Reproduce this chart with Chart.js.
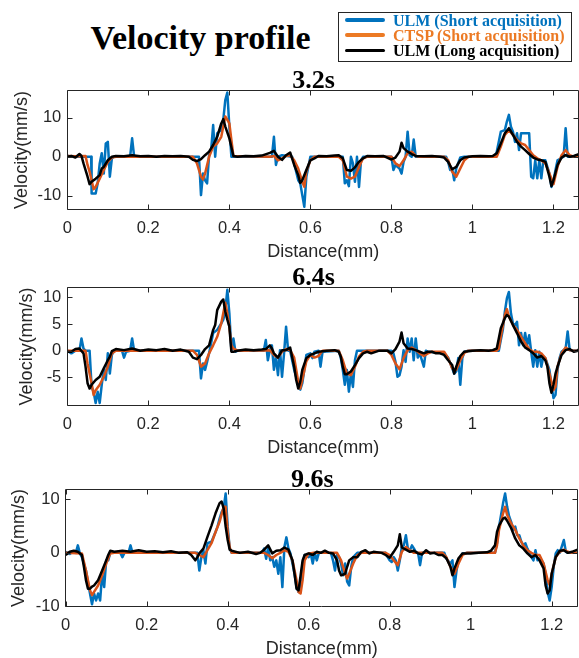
<!DOCTYPE html>
<html>
<head>
<meta charset="utf-8">
<script src="https://cdn.jsdelivr.net/npm/chart.js@4"></script>
<style>
  html, body { margin: 0; padding: 0; background: #fff; }
  body { width: 579px; height: 658px; position: relative; overflow: hidden; }
  canvas { position: absolute; left: 0; }
  #titulo {
    position: absolute; left: 0; top: 21px; width: 401px; text-align: center;
    font: bold 34px "Liberation Serif", "Times New Roman", serif; line-height: 34px; color: #000;
  }
  #leyenda {
    position: absolute; left: 338px; top: 12px; width: 234px; height: 50px;
    box-sizing: border-box; border: 1px solid #262626; background: #fff;
  }
  .muestra { position: absolute; left: 345px; width: 40px; height: 3.5px; border-radius: 2px; }
  .etiqueta {
    position: absolute; left: 393px; white-space: nowrap;
    font: bold 16px "Liberation Serif", "Times New Roman", serif; line-height: 16px;
  }
</style>
</head>
<body>
<div id="titulo">Velocity profile</div>
<div id="leyenda"></div>
<canvas id="grafico1"></canvas>
<canvas id="grafico2"></canvas>
<canvas id="grafico3"></canvas>
<script>
// Perfiles de velocidad: pares [distancia (mm), velocidad (mm/s)]
// 3.2s
const ulm_corta_32 = [[0,0.3],[0.01,0],[0.059,0],[0.06,-9.4],[0.07,-9.4],[0.075,-6.8],[0.08,-1.7],[0.085,0.9],[0.09,-4.3],[0.095,3.4],[0.1,3.8],[0.105,-5.1],[0.11,-0.4],[0.115,0],[0.155,0],[0.16,4.7],[0.165,0],[0.325,0],[0.33,-9.8],[0.335,-4.3],[0.34,-6],[0.345,-6.8],[0.35,0.4],[0.355,1.7],[0.36,8.1],[0.365,0],[0.37,6],[0.38,6.8],[0.385,9.4],[0.39,14.5],[0.395,16.4],[0.4,7.7],[0.405,0],[0.505,0],[0.51,5.1],[0.515,-2.1],[0.52,0],[0.53,0.4],[0.555,0],[0.56,-1.7],[0.57,-6],[0.575,-6.8],[0.58,-9.8],[0.585,-12.8],[0.59,-5.1],[0.6,0],[0.68,0],[0.685,-6.8],[0.69,-6],[0.695,-7.5],[0.7,0],[0.705,-1.7],[0.71,-6.4],[0.715,0],[0.72,-7.7],[0.725,-0.9],[0.73,0],[0.8,0],[0.805,-3.4],[0.81,-2.1],[0.82,-3],[0.825,-4.3],[0.83,-1.3],[0.835,0],[0.84,6.4],[0.845,0.4],[0.85,0],[0.855,4.4],[0.86,0],[0.935,0],[0.94,-1.3],[0.945,-3.4],[0.95,-3],[0.955,-6],[0.96,-3],[0.97,-0.2],[0.98,0],[1.055,0],[1.06,1.3],[1.07,6.4],[1.08,6.8],[1.085,9],[1.09,10.7],[1.095,7.7],[1.1,6.4],[1.105,3.8],[1.11,6],[1.115,1.7],[1.12,6],[1.14,6],[1.145,-5.1],[1.15,-5.5],[1.155,-0.9],[1.16,-5.5],[1.165,-0.9],[1.17,-5.5],[1.175,-0.9],[1.18,-0.9],[1.19,-4.3],[1.195,-7.7],[1.2,-6],[1.205,-3.4],[1.21,-0.9],[1.225,0],[1.23,7.3],[1.235,0],[1.264,0]];
const ctsp_32 = [[0,0.2],[0.02,0.1],[0.045,0.2],[0.05,-2.1],[0.055,-3.8],[0.06,-6],[0.065,-8.3],[0.07,-7.7],[0.08,-5.6],[0.09,-3.4],[0.1,-1.3],[0.11,-0.2],[0.12,0],[0.31,0],[0.32,-1.7],[0.33,-5.1],[0.335,-5.8],[0.34,-4.3],[0.35,0],[0.36,2.6],[0.37,3.4],[0.38,5.1],[0.39,10.3],[0.4,8.5],[0.405,4.3],[0.41,0.2],[0.5,0],[0.51,0.2],[0.52,-0.9],[0.53,-0.4],[0.54,0.2],[0.55,0.4],[0.56,-0.9],[0.57,-3],[0.58,-6.4],[0.585,-7.7],[0.59,-3.8],[0.6,-0.9],[0.61,0],[0.67,0],[0.68,-0.9],[0.69,-5.1],[0.7,-5.6],[0.71,-5.1],[0.72,-2.6],[0.73,-0.4],[0.74,0],[0.8,0],[0.81,-1.7],[0.82,-2.4],[0.83,-0.9],[0.84,0.9],[0.85,1.3],[0.86,0.2],[0.87,0],[0.93,0],[0.94,-0.9],[0.95,-3.8],[0.96,-5.1],[0.97,-3],[0.98,-0.9],[0.99,0],[1.06,0],[1.07,2.6],[1.08,5.6],[1.09,6.8],[1.1,5.6],[1.11,4.3],[1.12,3.4],[1.13,3],[1.14,1.7],[1.15,0.4],[1.16,-0.4],[1.17,-0.9],[1.18,-1.7],[1.19,-4.3],[1.2,-7],[1.21,-2.6],[1.22,0.4],[1.23,1.7],[1.24,0.4],[1.25,0],[1.264,0.2]];
const ulm_larga_32 = [[0,0],[0.01,0.2],[0.02,-0.2],[0.03,0.7],[0.035,0.2],[0.04,-1.7],[0.05,-5.1],[0.055,-7],[0.06,-6.4],[0.07,-5.6],[0.08,-4.7],[0.085,-3],[0.09,-2.6],[0.1,-0.9],[0.11,0],[0.12,0.2],[0.14,0.1],[0.16,0.4],[0.18,0.1],[0.2,0.2],[0.22,0],[0.24,0.2],[0.26,0.1],[0.28,0.2],[0.3,0],[0.31,-0.8],[0.32,-1.1],[0.33,-0.6],[0.34,0.4],[0.35,1.3],[0.36,3],[0.37,5.1],[0.38,8.5],[0.385,9.6],[0.39,7.7],[0.4,4.7],[0.41,0.2],[0.42,0],[0.44,0.2],[0.46,0.1],[0.48,0.3],[0.5,1],[0.51,1.5],[0.52,0],[0.53,-0.8],[0.54,0.4],[0.55,1.1],[0.56,-2.1],[0.57,-4.7],[0.575,-6.7],[0.58,-6],[0.59,-3.4],[0.6,-0.9],[0.61,-0.4],[0.62,0.2],[0.64,0.1],[0.66,0.3],[0.67,0.4],[0.68,-0.4],[0.69,-3.4],[0.7,-3.6],[0.71,-2.7],[0.72,-1.3],[0.73,-0.4],[0.74,0.2],[0.76,0.1],[0.78,0.2],[0.8,-0.7],[0.81,-0.2],[0.82,1.3],[0.825,3.6],[0.83,2.2],[0.84,1.3],[0.85,0.7],[0.86,0.2],[0.88,0.1],[0.9,0.2],[0.92,0],[0.93,-0.2],[0.94,-1.3],[0.95,-3.2],[0.96,-2.6],[0.97,-0.9],[0.98,-0.2],[1,0.1],[1.02,0.2],[1.04,0.1],[1.05,0.2],[1.06,0.9],[1.07,3.4],[1.08,6],[1.09,7.3],[1.1,5.6],[1.11,3.8],[1.12,2.6],[1.13,1.7],[1.14,0.7],[1.15,-0.2],[1.16,-0.7],[1.17,-0.9],[1.18,-1.3],[1.19,-5.1],[1.195,-7.5],[1.2,-6],[1.21,-2.1],[1.22,-0.2],[1.23,0.4],[1.24,0],[1.25,0.2],[1.264,0.7]];
// 6.4s
const ulm_corta_64 = [[0,0],[0.01,-0.5],[0.02,0],[0.03,0],[0.035,2.3],[0.04,0.4],[0.045,0],[0.055,0],[0.06,-6.8],[0.065,-7.7],[0.07,-9.8],[0.075,-7.7],[0.08,-9.8],[0.085,-6.4],[0.09,-3.6],[0.095,-5.5],[0.1,-0.5],[0.105,-4.3],[0.11,-0.8],[0.115,0],[0.135,0],[0.14,-1.3],[0.145,-0.2],[0.155,0],[0.16,2.3],[0.165,0],[0.325,0],[0.33,-5.2],[0.335,-2.4],[0.34,-3.6],[0.345,-2.1],[0.35,-0.5],[0.36,3.3],[0.37,3.9],[0.38,5.1],[0.385,5.8],[0.39,7.6],[0.395,11.4],[0.4,7],[0.405,0.1],[0.41,2.3],[0.415,-0.2],[0.42,0],[0.485,0],[0.49,2],[0.495,-1.8],[0.5,0.1],[0.505,1],[0.51,-3.6],[0.515,-1.1],[0.52,-4.6],[0.525,0.1],[0.53,-4.9],[0.535,-0.5],[0.54,4.5],[0.545,0],[0.55,0],[0.555,-1.8],[0.56,-3.6],[0.565,-4.9],[0.57,-6.4],[0.575,-7.3],[0.58,-6.1],[0.585,-3.6],[0.59,-0.8],[0.6,-0.5],[0.605,-1.4],[0.61,-0.2],[0.62,0],[0.625,-3],[0.63,-0.2],[0.67,0],[0.675,-1.3],[0.68,-3.6],[0.685,-6.4],[0.69,-3.6],[0.695,-7.7],[0.7,-4.3],[0.705,-6.8],[0.71,-1.8],[0.715,0],[0.8,0],[0.805,-0.5],[0.81,-2.1],[0.815,-4.9],[0.82,-4.6],[0.825,-3],[0.83,0.1],[0.835,-2.1],[0.84,2.3],[0.845,-0.2],[0.85,2.3],[0.855,-1.8],[0.86,2.3],[0.865,-1.3],[0.87,-0.5],[0.88,-3],[0.885,0],[0.89,-0.2],[0.93,-0.5],[0.94,-1.3],[0.95,-3.3],[0.955,-4.3],[0.96,-3.9],[0.965,-1.4],[0.97,-6.4],[0.975,-1.4],[0.98,-0.2],[0.99,0],[1.065,0],[1.07,2],[1.075,3.9],[1.08,7.3],[1.085,9.8],[1.09,11],[1.095,7],[1.1,5.1],[1.105,4.8],[1.11,5.4],[1.115,1],[1.12,3.3],[1.125,1],[1.13,3.3],[1.135,1],[1.14,2.9],[1.145,-0.2],[1.15,-3],[1.155,0.1],[1.16,-3],[1.165,-0.2],[1.17,-3],[1.175,-1.1],[1.18,-1.4],[1.19,-3.6],[1.195,-6.4],[1.2,-8.9],[1.205,-8.3],[1.21,-3.6],[1.215,-1.4],[1.22,-0.2],[1.23,0.4],[1.235,3.6],[1.24,0.1],[1.264,0]];
const ctsp_64 = [[0,0],[0.045,0],[0.05,-2.4],[0.06,-6.1],[0.065,-8.3],[0.07,-7.4],[0.08,-6.4],[0.09,-4.9],[0.1,-3],[0.11,-0.5],[0.12,0],[0.31,0],[0.32,-0.8],[0.33,-3],[0.34,-2.4],[0.35,-0.5],[0.36,1],[0.37,2.6],[0.38,5.1],[0.39,9],[0.395,7],[0.4,4.5],[0.405,1],[0.41,0.4],[0.42,0],[0.5,0.1],[0.51,-0.8],[0.52,-1.3],[0.53,-0.2],[0.54,0.3],[0.55,0.1],[0.56,-1.3],[0.57,-5.8],[0.575,-7.1],[0.58,-5.5],[0.59,-2],[0.6,-0.8],[0.61,-1.3],[0.62,-1],[0.63,0],[0.67,0],[0.68,-1.8],[0.69,-4.3],[0.7,-4.6],[0.71,-3],[0.72,-1.1],[0.73,-0.2],[0.74,0],[0.79,0],[0.8,-0.8],[0.81,-2.4],[0.82,-3.5],[0.83,-1.4],[0.84,0.1],[0.85,0.6],[0.86,0.1],[0.87,-0.5],[0.88,-1],[0.89,-0.5],[0.9,-0.2],[0.93,-0.2],[0.94,-1.4],[0.95,-3.3],[0.96,-3.6],[0.97,-1.8],[0.98,-0.4],[0.99,0],[1.06,0],[1.065,0.4],[1.07,2.6],[1.08,6.7],[1.085,7.8],[1.09,6.4],[1.1,4.8],[1.11,3.9],[1.12,2.6],[1.13,1.4],[1.14,0.3],[1.15,-0.2],[1.16,-0.2],[1.17,-0.5],[1.18,-1.4],[1.19,-4.3],[1.2,-7.4],[1.205,-6.8],[1.21,-3],[1.22,-0.5],[1.23,0.6],[1.24,0.1],[1.25,0],[1.264,0]];
const ulm_larga_64 = [[0,-0.2],[0.01,-0.2],[0.02,0.3],[0.03,0.4],[0.04,-0.5],[0.045,-3],[0.05,-6.1],[0.055,-7.1],[0.06,-6.4],[0.07,-5.5],[0.08,-4.9],[0.09,-3.3],[0.1,-1.8],[0.105,-1.1],[0.11,-0.1],[0.12,0.3],[0.14,0.1],[0.16,0.4],[0.18,0],[0.2,0.2],[0.22,0.1],[0.24,0.3],[0.26,0],[0.28,0.2],[0.3,-0.2],[0.31,-1.3],[0.32,-1.6],[0.33,-0.8],[0.34,0.3],[0.35,1],[0.36,3.9],[0.365,4.8],[0.37,7.6],[0.38,9.2],[0.385,9.6],[0.39,7.3],[0.395,5.8],[0.4,4.5],[0.405,-0.2],[0.41,-0.2],[0.42,0],[0.44,0.2],[0.46,0.1],[0.48,0.2],[0.49,0.3],[0.5,1],[0.505,0.4],[0.51,-0.5],[0.52,-1.3],[0.53,0.1],[0.54,0.1],[0.55,0.6],[0.56,-3],[0.565,-5.5],[0.57,-7.1],[0.575,-5.8],[0.58,-3.6],[0.59,-1.4],[0.6,-0.8],[0.61,-0.5],[0.62,-0.2],[0.64,0],[0.66,0.1],[0.67,-0.2],[0.675,-1.1],[0.68,-3],[0.685,-4.4],[0.69,-4.4],[0.7,-3.9],[0.71,-2.7],[0.72,-1.4],[0.73,-0.5],[0.74,-0.2],[0.75,-0.5],[0.77,0],[0.79,0],[0.8,-0.5],[0.81,0.3],[0.82,1.7],[0.825,3.4],[0.83,1.4],[0.84,0.4],[0.85,0.3],[0.86,0.1],[0.87,-0.2],[0.88,-0.5],[0.89,-0.2],[0.9,-0.2],[0.91,-0.5],[0.92,-0.5],[0.93,-0.8],[0.94,-1.8],[0.95,-2.7],[0.955,-4.3],[0.96,-3],[0.97,-1],[0.98,-0.2],[1,0],[1.02,0.1],[1.04,0],[1.05,0.1],[1.06,0.4],[1.065,2.3],[1.07,4.2],[1.08,6.1],[1.085,6.7],[1.09,6.4],[1.1,4.8],[1.11,3.3],[1.12,1.7],[1.13,0.6],[1.14,0.1],[1.15,-0.5],[1.16,-1.3],[1.17,-1],[1.18,-1.8],[1.185,-3],[1.19,-6.1],[1.195,-7.9],[1.2,-6.4],[1.205,-4.3],[1.21,-3],[1.22,-0.8],[1.23,0.1],[1.24,0.3],[1.25,-0.2],[1.26,0],[1.264,0.4]];
// 9.6s
const ulm_corta_96 = [[0,0.2],[0.01,-0.2],[0.02,0.3],[0.025,0],[0.03,1.4],[0.035,-0.1],[0.04,-0.8],[0.05,-3.3],[0.06,-7.6],[0.065,-9.6],[0.07,-7.6],[0.075,-8.9],[0.08,-7.6],[0.085,-8.9],[0.09,-3.9],[0.095,-6.4],[0.1,-1.4],[0.105,-1.4],[0.11,0],[0.135,0],[0.14,-0.8],[0.145,0],[0.155,0],[0.16,1.4],[0.165,0],[0.325,0],[0.33,-3.3],[0.335,-0.8],[0.34,0.5],[0.345,-2],[0.35,1.8],[0.36,2.1],[0.37,3.9],[0.375,4.9],[0.38,6.4],[0.385,7.6],[0.39,8.3],[0.395,11.1],[0.4,4.9],[0.405,0.8],[0.41,0],[0.485,0],[0.49,0.8],[0.495,-1.1],[0.5,1.1],[0.505,-1.4],[0.51,-0.8],[0.515,-2.6],[0.52,-1.4],[0.525,-3.9],[0.53,-0.8],[0.535,-6.4],[0.54,1.1],[0.545,2.9],[0.55,0.8],[0.555,-0.1],[0.56,-2],[0.565,-3.9],[0.57,-6.4],[0.575,-7.3],[0.58,-5.8],[0.585,-2],[0.59,-0.4],[0.6,-0.8],[0.605,-0.1],[0.61,-2],[0.615,0],[0.62,-1.4],[0.625,0],[0.655,0],[0.66,-1.4],[0.665,-3.3],[0.67,-0.4],[0.675,-0.8],[0.68,-2],[0.685,-4.2],[0.69,-2],[0.695,-5.4],[0.7,-6.1],[0.705,-2.6],[0.71,-0.8],[0.72,0],[0.79,0],[0.795,-0.8],[0.8,-1.4],[0.805,-1.7],[0.81,-0.8],[0.815,-1.4],[0.82,-3.3],[0.825,-1.4],[0.83,1.1],[0.835,1.4],[0.84,3.3],[0.845,0.8],[0.85,0.5],[0.855,1.4],[0.86,0.8],[0.865,0.1],[0.87,0],[0.875,-2.3],[0.88,0],[0.935,0],[0.94,-1.1],[0.95,-2],[0.955,-1.4],[0.96,-6.4],[0.965,-3.3],[0.97,-1.4],[0.98,-0.1],[0.99,0],[1.06,0],[1.065,1.8],[1.07,4.9],[1.075,7.1],[1.08,9.3],[1.085,11.1],[1.09,8.6],[1.095,6.8],[1.1,5.8],[1.105,4.3],[1.11,4.9],[1.115,3.3],[1.12,3.3],[1.125,2.1],[1.13,1.4],[1.135,1.8],[1.14,0.8],[1.15,-0.8],[1.155,-1.4],[1.16,0.5],[1.165,-1.4],[1.17,-1.1],[1.175,-1.4],[1.18,-2],[1.185,-3.9],[1.19,-7.3],[1.195,-8.9],[1.2,-6.4],[1.205,-2.6],[1.21,-0.1],[1.215,0.5],[1.22,0],[1.23,2.4],[1.235,0.2],[1.24,0],[1.264,0]];
const ctsp_96 = [[0,0],[0.04,-0.1],[0.05,-3.3],[0.06,-7],[0.065,-7.9],[0.07,-7.3],[0.08,-6.1],[0.09,-4.2],[0.1,-2],[0.11,-0.1],[0.12,0],[0.32,0],[0.33,-0.4],[0.34,-0.8],[0.35,0.5],[0.36,1.8],[0.37,3.9],[0.38,5.8],[0.39,8.6],[0.395,8.6],[0.4,3.9],[0.405,1],[0.41,0],[0.49,0],[0.5,-0.4],[0.51,-1],[0.52,-0.4],[0.53,0],[0.54,0.5],[0.55,0.2],[0.56,-1.4],[0.57,-5.1],[0.575,-7.3],[0.58,-7.6],[0.585,-5.1],[0.59,-1.4],[0.6,-0.1],[0.61,0],[0.67,0],[0.68,-1.4],[0.69,-3.9],[0.695,-4.8],[0.7,-3.9],[0.71,-2],[0.72,-0.4],[0.73,0],[0.79,0],[0.8,-0.4],[0.81,-1.4],[0.82,-2.3],[0.83,0.2],[0.84,1.1],[0.85,0.5],[0.86,0],[0.93,0],[0.94,-0.8],[0.95,-2.6],[0.96,-3.9],[0.97,-2],[0.98,-0.4],[0.99,0],[1.06,0],[1.065,1.4],[1.07,4.3],[1.08,7.4],[1.085,8.6],[1.09,7.1],[1.1,5.5],[1.11,4.3],[1.12,2.7],[1.13,1.4],[1.14,0.5],[1.15,0],[1.16,-0.4],[1.17,-0.4],[1.18,-2],[1.19,-5.1],[1.195,-6],[1.2,-3.9],[1.21,-0.8],[1.22,0.2],[1.23,0.6],[1.24,0.2],[1.25,0],[1.264,0]];
const ulm_larga_96 = [[0,-0.4],[0.01,0.2],[0.02,0.4],[0.03,0.2],[0.04,-0.4],[0.045,-2.6],[0.05,-5.1],[0.055,-6.7],[0.06,-6.7],[0.065,-6.3],[0.07,-6.1],[0.08,-5.1],[0.09,-3.3],[0.1,-1.4],[0.105,-0.4],[0.11,0.4],[0.12,0.2],[0.14,0.4],[0.16,0.2],[0.18,0.5],[0.2,0.2],[0.22,0.3],[0.24,0.1],[0.26,0.3],[0.28,0],[0.3,0.1],[0.31,-0.4],[0.32,-1.4],[0.325,-0.8],[0.33,-0.1],[0.34,0.8],[0.35,3],[0.36,5.1],[0.37,7.4],[0.38,9.3],[0.385,9.6],[0.39,8.3],[0.395,4.9],[0.4,2.4],[0.405,0.6],[0.41,0.4],[0.43,0],[0.45,0.2],[0.47,-0.2],[0.48,0],[0.49,0.6],[0.5,1.4],[0.51,-0.1],[0.52,0.4],[0.53,0.5],[0.54,1],[0.55,0.6],[0.56,-1.4],[0.565,-3.9],[0.57,-6.7],[0.575,-7],[0.58,-4.2],[0.585,-1.4],[0.59,-0.4],[0.6,-0.1],[0.61,-0.4],[0.62,0.2],[0.63,0],[0.64,0.4],[0.65,0],[0.66,-0.1],[0.67,-1.4],[0.675,-3.3],[0.68,-4.2],[0.69,-3.9],[0.695,-2.6],[0.7,-1.4],[0.71,-0.8],[0.72,-0.8],[0.73,0.2],[0.74,0.5],[0.75,-0.1],[0.76,0.2],[0.78,0],[0.79,-0.4],[0.8,-0.9],[0.81,0.2],[0.82,1.4],[0.825,3.5],[0.83,1],[0.84,0.6],[0.85,0.2],[0.86,0.4],[0.87,-0.1],[0.88,-0.3],[0.89,0.5],[0.9,-0.1],[0.91,0],[0.92,-0.4],[0.93,-0.4],[0.94,-1],[0.95,-2.6],[0.955,-4.2],[0.96,-2.9],[0.97,-1],[0.98,-0.1],[1,-0.1],[1.02,0],[1.04,0.1],[1.05,0.4],[1.06,1.4],[1.065,3.9],[1.07,5.1],[1.08,6.4],[1.085,6.6],[1.09,6],[1.1,4.6],[1.11,2.7],[1.12,1.4],[1.13,0.8],[1.14,-0.1],[1.15,-0.8],[1.16,-0.4],[1.17,-1.4],[1.18,-2.9],[1.185,-6.1],[1.19,-7.6],[1.195,-7],[1.2,-3.9],[1.21,-0.8],[1.22,0.4],[1.23,0.5],[1.24,0],[1.25,0.2],[1.264,0.6]];

const titulos = ['3.2s', '6.4s', '9.6s'];
const nombres_series = ['ULM (Short acquisition)', 'CTSP (Short acquisition)', 'ULM (Long acquisition)'];
const ticks_x = [0, 0.2, 0.4, 0.6, 0.8, 1, 1.2];
const ticks_y = [[-10, 0, 10], [-5, 0, 5, 10], [-10, 0, 10]];
const rango_y = [[-13.5, 17], [-10.3, 11.9], [-10.1, 11.9]];
const perfiles = [
  [ulm_corta_32, ctsp_32, ulm_larga_32],
  [ulm_corta_64, ctsp_64, ulm_larga_64],
  [ulm_corta_96, ctsp_96, ulm_larga_96]
];

// colores de linea y de leyenda
const colores = ['#0072BD', '#D95319', '#000000'];
const colores_leyenda = ['#0072BD', '#EC7A24', '#000000'];

// posicion de cada area de trazado en la pagina (px)
const paneles = [
  { id: 'grafico1', top: 90.2, bottom: 209.6, left: 67.3, right: 579, xMax: 1.263, padTituloY: 10.9 },
  { id: 'grafico2', top: 287.2, bottom: 405.6, left: 67.3, right: 579, xMax: 1.263, padTituloY: 16.3 },
  { id: 'grafico3', top: 489.2, bottom: 606.9, left: 65.7, right: 578, xMax: 1.265, padTituloY: 8.2 }
];

// leyenda
const leyenda_filas = [12.6, 27.6, 43.3];
nombres_series.forEach((nombre, i) => {
  const linea = document.createElement('div');
  linea.className = 'muestra';
  linea.style.top = (leyenda_filas[i] + 5.6) + 'px';
  linea.style.background = colores_leyenda[i];
  document.body.appendChild(linea);
  const texto = document.createElement('div');
  texto.className = 'etiqueta';
  texto.style.top = leyenda_filas[i] + 'px';
  texto.style.color = colores_leyenda[i];
  texto.textContent = nombre;
  document.body.appendChild(texto);
});

// caja de ejes con marcas hacia dentro en los cuatro lados y titulo del panel
const cajaEjes = {
  id: 'cajaEjes',
  afterDatasetsDraw(chart, args, opts) {
    const { ctx, chartArea: a, scales: { x, y } } = chart;
    const L = Math.floor(a.left) + 0.5, R = Math.ceil(a.right) - 0.5;
    const T = Math.floor(a.top) + 0.5, B = Math.ceil(a.bottom) - 0.5;
    ctx.save();
    ctx.strokeStyle = '#262626';
    ctx.lineWidth = 1;
    ctx.beginPath();
    ctx.rect(L, T, R - L, B - T);
    x.ticks.forEach(t => {
      const px = Math.round(x.getPixelForValue(t.value)) + 0.5;
      ctx.moveTo(px, B); ctx.lineTo(px, B - 5);
      ctx.moveTo(px, T); ctx.lineTo(px, T + 5);
    });
    y.ticks.forEach(t => {
      const py = Math.round(y.getPixelForValue(t.value)) + 0.5;
      ctx.moveTo(L, py); ctx.lineTo(L + 5, py);
      ctx.moveTo(R, py); ctx.lineTo(R - 5, py);
    });
    ctx.stroke();
    ctx.fillStyle = '#000';
    ctx.font = 'bold 26px "Liberation Serif", "Times New Roman", serif';
    ctx.textAlign = 'center';
    ctx.textBaseline = 'alphabetic';
    ctx.fillText(opts.titulo, (a.left + a.right) / 2 - 9.5, a.top - 2.7);
    ctx.restore();
  }
};

const fuente = 'Liberation Sans, Arial, sans-serif';

function crear_panel(p, i) {
  const canvas = document.getElementById(p.id);
  const arriba = 31, alto_eje_x = 56;
  const top_canvas = Math.floor(p.top) - arriba;
  const pad_top = p.top - top_canvas;
  const total = pad_top + (p.bottom - p.top) + alto_eje_x;
  const alto = Math.ceil(total);
  canvas.width = 579;
  canvas.height = alto;
  canvas.style.top = top_canvas + 'px';
  canvas.style.width = '579px';
  canvas.style.height = alto + 'px';

  const datasets = perfiles[i].map((serie, k) => ({
    label: nombres_series[k],
    data: serie.map(([d, v]) => ({ x: d, y: v })),
    borderColor: colores[k],
    borderWidth: 2.5,
    pointRadius: 0,
    tension: 0,
    borderJoinStyle: 'round',
    order: 3 - k
  }));

  return new Chart(canvas, {
    type: 'line',
    data: { datasets },
    options: {
      responsive: false,
      animation: false,
      events: [],
      layout: { padding: { top: pad_top, bottom: alto - total, left: 0, right: 579 - p.right } },
      plugins: {
        legend: { display: false },
        tooltip: { enabled: false },
        cajaEjes: { titulo: titulos[i] }
      },
      scales: {
        x: {
          type: 'linear',
          min: 0,
          max: p.xMax,
          afterBuildTicks: s => { s.ticks = ticks_x.map(v => ({ value: v })); },
          afterFit: s => { s.height = alto_eje_x; },
          grid: { display: false, drawTicks: false },
          border: { display: false },
          ticks: {
            color: '#262626', padding: 9, maxRotation: 0, autoSkip: false,
            font: { family: fuente, size: 16.5 },
            callback: v => String(+Number(v).toFixed(2))
          },
          title: {
            display: true, text: 'Distance(mm)', color: '#262626',
            font: { family: fuente, size: 18 }, padding: { top: 0, bottom: 2.7 }
          }
        },
        y: {
          type: 'linear',
          min: rango_y[i][0],
          max: rango_y[i][1],
          afterBuildTicks: s => { s.ticks = ticks_y[i].map(v => ({ value: v })); },
          afterFit: s => { s.width = p.left; },
          grid: { display: false, drawTicks: false },
          border: { display: false },
          ticks: {
            color: '#262626', padding: 6,
            font: { family: fuente, size: 16.5 },
            callback: v => String(v)
          },
          title: {
            display: true, text: 'Velocity(mm/s)', color: '#262626',
            font: { family: fuente, size: 18 }, padding: { top: p.padTituloY, bottom: 0 }
          }
        }
      }
    },
    plugins: [cajaEjes]
  });
}

paneles.forEach(crear_panel);
</script>
</body>
</html>
